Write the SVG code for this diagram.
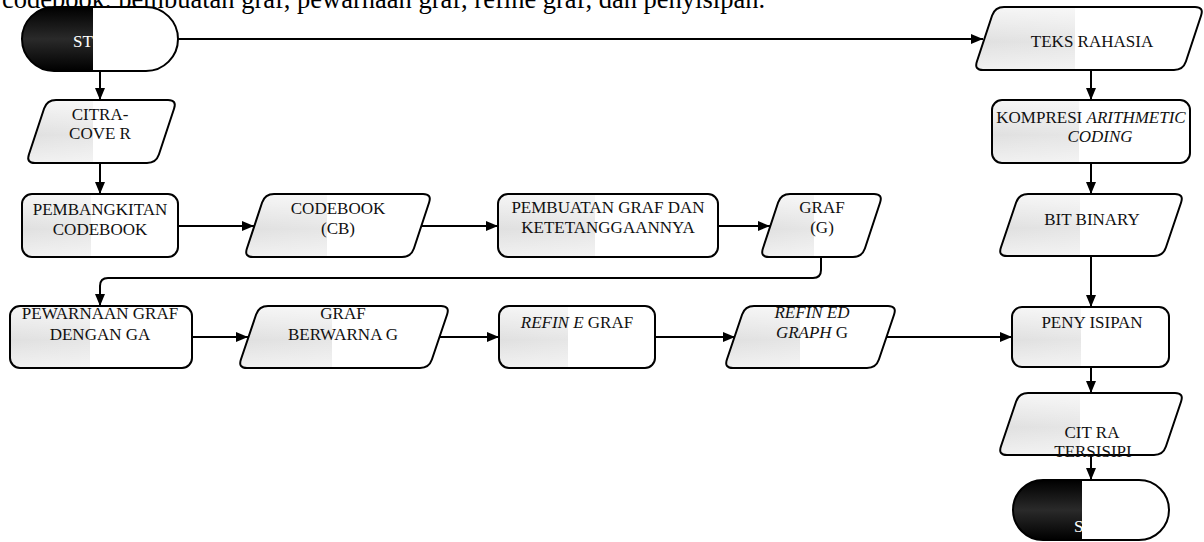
<svg xmlns="http://www.w3.org/2000/svg" width="1204" height="542" viewBox="0 0 1204 542">
<style>
.t{font-family:"Liberation Serif","Times New Roman",serif;font-size:17px;text-anchor:middle;fill:#111}
.i{font-style:italic}
.cap{font-family:"Liberation Serif","Times New Roman",serif;font-size:26.5px;fill:#000}
.base{fill:url(#h);stroke:none}
.sheen{fill:url(#v);stroke:#000;stroke-width:2;stroke-linejoin:round}
.outline{fill:none;stroke:#000;stroke-width:2}
.blk{fill:url(#b)}
.wt{font-family:"Liberation Serif","Times New Roman",serif;font-size:17px;fill:#fff}
.c{fill:none;stroke:#000;stroke-width:2}
</style>
<defs>
<linearGradient id="h" x1="0" y1="0" x2="1" y2="0">
<stop offset="0" stop-color="#e0e0e0"/>
<stop offset="0.44" stop-color="#e6e6e6"/>
<stop offset="0.44" stop-color="#ffffff"/>
<stop offset="1" stop-color="#ffffff"/>
</linearGradient>
<linearGradient id="v" x1="0" y1="0" x2="0" y2="1">
<stop offset="0" stop-color="#fff" stop-opacity="0.7"/>
<stop offset="0.55" stop-color="#fff" stop-opacity="0"/>
<stop offset="1" stop-color="#fff" stop-opacity="0.55"/>
</linearGradient>
<linearGradient id="b" x1="0" y1="0" x2="0" y2="1">
<stop offset="0" stop-color="#000"/>
<stop offset="0.5" stop-color="#2a2a2a"/>
<stop offset="1" stop-color="#000"/>
</linearGradient>
<marker id="arr" markerWidth="12" markerHeight="12" refX="12" refY="6" orient="auto" markerUnits="userSpaceOnUse">
<path d="M0,1 L12,6 L0,11 Z" fill="#000"/>
</marker>
</defs>

<rect width="1204" height="542" fill="#fff"/>

<text class="cap" x="2" y="8">codebook, pembuatan graf, pewarnaan graf, refine graf, dan penyisipan.</text>

<g id="connectors">
<path class="c" d="M178,39 H983" marker-end="url(#arr)"/>
<path class="c" d="M100,71 V100" marker-end="url(#arr)"/>
<path class="c" d="M100,163 V194" marker-end="url(#arr)"/>
<path class="c" d="M178,226 H254" marker-end="url(#arr)"/>
<path class="c" d="M422,226 H498" marker-end="url(#arr)"/>
<path class="c" d="M718,226 H770" marker-end="url(#arr)"/>
<path class="c" d="M821,257 V270 Q821,278 813,278 H108 Q100,278 100,286 V306" marker-end="url(#arr)"/>
<path class="c" d="M192,337 H248" marker-end="url(#arr)"/>
<path class="c" d="M440,337 H499" marker-end="url(#arr)"/>
<path class="c" d="M655,337 H735" marker-end="url(#arr)"/>
<path class="c" d="M886,337 H1012" marker-end="url(#arr)"/>
<path class="c" d="M1091,70 V100" marker-end="url(#arr)"/>
<path class="c" d="M1091,163 V194" marker-end="url(#arr)"/>
<path class="c" d="M1091,256 V307" marker-end="url(#arr)"/>
<path class="c" d="M1091,367 V393" marker-end="url(#arr)"/>
<path class="c" d="M1091,455 V480" marker-end="url(#arr)"/>
</g>

<g id="start">
<rect x="22" y="7" width="156" height="64" rx="32" fill="#fff"/>
<path class="blk" d="M93,7 H54 A32,32 0 0 0 54,71 H93 Z"/>
<rect class="outline" x="22" y="7" width="156" height="64" rx="32"/>
<text class="wt" x="73" y="47">ST</text>
</g>

<g id="citra-cover">
<path class="base" d="M56,100 H168 Q177,100 174.1,108.5 L158.9,154.5 Q156,163 147,163 H35 Q26,163 28.9,154.5 L44.1,108.5 Q47,100 56,100 Z"/>
<path class="sheen" d="M56,100 H168 Q177,100 174.1,108.5 L158.9,154.5 Q156,163 147,163 H35 Q26,163 28.9,154.5 L44.1,108.5 Q47,100 56,100 Z"/>
<text class="t" x="100" y="120">CITRA-</text>
<text class="t" x="100" y="139">COVE R</text>
</g>

<g id="pembangkitan">
<rect class="base" x="22" y="194" width="156" height="63" rx="10"/>
<rect class="sheen" x="22" y="194" width="156" height="63" rx="10"/>
<text class="t" x="100" y="215">PEMBANGKITAN</text>
<text class="t" x="100" y="235">CODEBOOK</text>
</g>

<g id="codebook">
<path class="base" d="M274,194 H423 Q432,194 429.1,202.5 L413.9,248.5 Q411,257 402,257 H253 Q244,257 246.9,248.5 L262.1,202.5 Q265,194 274,194 Z"/>
<path class="sheen" d="M274,194 H423 Q432,194 429.1,202.5 L413.9,248.5 Q411,257 402,257 H253 Q244,257 246.9,248.5 L262.1,202.5 Q265,194 274,194 Z"/>
<text class="t" x="338" y="214">CODEBOOK</text>
<text class="t" x="338" y="234">(CB)</text>
</g>

<g id="pembuatan">
<rect class="base" x="498" y="194" width="220" height="63" rx="10"/>
<rect class="sheen" x="498" y="194" width="220" height="63" rx="10"/>
<text class="t" x="608" y="213">PEMBUATAN GRAF DAN</text>
<text class="t" x="608" y="233">KETETANGGAANNYA</text>
</g>

<g id="graf-g">
<path class="base" d="M790,194 H874 Q883,194 880.1,202.5 L864.9,248.5 Q862,257 853,257 H769 Q760,257 762.9,248.5 L778.1,202.5 Q781,194 790,194 Z"/>
<path class="sheen" d="M790,194 H874 Q883,194 880.1,202.5 L864.9,248.5 Q862,257 853,257 H769 Q760,257 762.9,248.5 L778.1,202.5 Q781,194 790,194 Z"/>
<text class="t" x="822" y="213">GRAF</text>
<text class="t" x="822" y="233">(G)</text>
</g>

<g id="pewarnaan">
<rect class="base" x="10" y="306" width="182" height="62" rx="10"/>
<rect class="sheen" x="10" y="306" width="182" height="62" rx="10"/>
<text class="t" x="100" y="319">PEWARNAAN GRAF</text>
<text class="t" x="100" y="340">DENGAN GA</text>
</g>

<g id="graf-berwarna">
<path class="base" d="M268,306 H441 Q450,306 447.1,314.5 L431.9,359.5 Q429,368 420,368 H247 Q238,368 240.9,359.5 L256.1,314.5 Q259,306 268,306 Z"/>
<path class="sheen" d="M268,306 H441 Q450,306 447.1,314.5 L431.9,359.5 Q429,368 420,368 H247 Q238,368 240.9,359.5 L256.1,314.5 Q259,306 268,306 Z"/>
<text class="t" x="343" y="319">GRAF</text>
<text class="t" x="343" y="340">BERWARNA G</text>
</g>

<g id="refine-graf">
<rect class="base" x="499" y="306" width="156" height="62" rx="10"/>
<rect class="sheen" x="499" y="306" width="156" height="62" rx="10"/>
<text class="t" x="577" y="328"><tspan class="i">REFIN E</tspan> GRAF</text>
</g>

<g id="refined-graph">
<path class="base" d="M754,306 H888 Q897,306 894.1,314.5 L878.9,359.5 Q876,368 867,368 H733 Q724,368 726.9,359.5 L742.1,314.5 Q745,306 754,306 Z"/>
<path class="sheen" d="M754,306 H888 Q897,306 894.1,314.5 L878.9,359.5 Q876,368 867,368 H733 Q724,368 726.9,359.5 L742.1,314.5 Q745,306 754,306 Z"/>
<text class="t i" x="812" y="318">REFIN ED</text>
<text class="t" x="812" y="338"><tspan class="i">GRAPH</tspan> G</text>
</g>

<g id="teks-rahasia">
<path class="base" d="M1004,7 H1195 Q1204,7 1201.1,15.5 L1185.9,61.5 Q1183,70 1174,70 H983 Q974,70 976.9,61.5 L992.1,15.5 Q995,7 1004,7 Z"/>
<path class="sheen" d="M1004,7 H1195 Q1204,7 1201.1,15.5 L1185.9,61.5 Q1183,70 1174,70 H983 Q974,70 976.9,61.5 L992.1,15.5 Q995,7 1004,7 Z"/>
<text class="t" x="1092" y="47">TEKS RAHASIA</text>
</g>

<g id="kompresi">
<rect class="base" x="992" y="100" width="198" height="63" rx="10"/>
<rect class="sheen" x="992" y="100" width="198" height="63" rx="10"/>
<text class="t" x="1091" y="123">KOMPRESI <tspan class="i">ARITHMETIC</tspan></text>
<text class="t i" x="1100" y="142">CODING</text>
</g>

<g id="bit-binary">
<path class="base" d="M1028,194 H1175 Q1184,194 1181.1,202.5 L1165.9,247.5 Q1163,256 1154,256 H1007 Q998,256 1000.9,247.5 L1016.1,202.5 Q1019,194 1028,194 Z"/>
<path class="sheen" d="M1028,194 H1175 Q1184,194 1181.1,202.5 L1165.9,247.5 Q1163,256 1154,256 H1007 Q998,256 1000.9,247.5 L1016.1,202.5 Q1019,194 1028,194 Z"/>
<text class="t" x="1092" y="225">BIT BINARY</text>
</g>

<g id="penyisipan">
<rect class="base" x="1012" y="307" width="157" height="60" rx="10"/>
<rect class="sheen" x="1012" y="307" width="157" height="60" rx="10"/>
<text class="t" x="1092" y="328">PENY ISIPAN</text>
</g>

<g id="citra-tersisipi">
<path class="base" d="M1028,393 H1175 Q1184,393 1181.1,401.5 L1165.9,446.5 Q1163,455 1154,455 H1007 Q998,455 1000.9,446.5 L1016.1,401.5 Q1019,393 1028,393 Z"/>
<path class="sheen" d="M1028,393 H1175 Q1184,393 1181.1,401.5 L1165.9,446.5 Q1163,455 1154,455 H1007 Q998,455 1000.9,446.5 L1016.1,401.5 Q1019,393 1028,393 Z"/>
<text class="t" x="1092" y="438">CIT RA</text>
<text class="t" x="1093" y="457">TERSISIPI</text>
</g>

<g id="end">
<rect x="1013" y="480" width="156" height="60" rx="30" fill="#fff"/>
<path class="blk" d="M1082,480 H1043 A30,30 0 0 0 1043,540 H1082 Z"/>
<rect class="outline" x="1013" y="480" width="156" height="60" rx="30"/>
<text class="wt" x="1074" y="532">S</text>
</g>
</svg>
